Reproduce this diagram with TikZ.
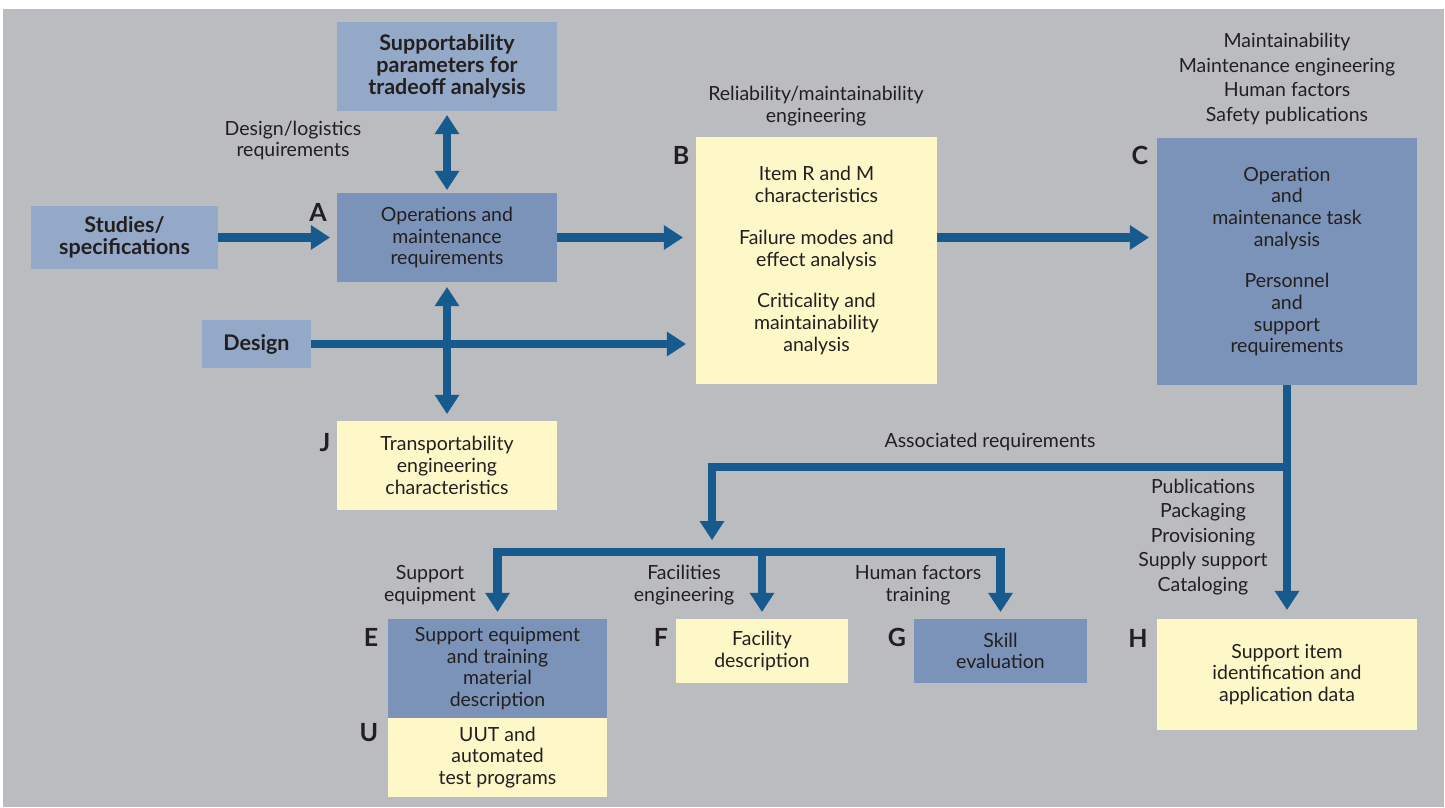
\documentclass[tikz,border=0pt]{standalone}
\usepackage{fontspec}
\setmainfont{Lato}
\usepackage{tikz}
\usetikzlibrary{positioning, arrows.meta}
\definecolor{bgGray}{HTML}{BBBCC0}
\definecolor{lightBlue}{HTML}{94A8C8}
\definecolor{midBlue}{HTML}{7B93B8}
\definecolor{paleYellow}{HTML}{FEF8C8}
\definecolor{pipeBlue}{HTML}{175A8E}
\definecolor{inkGray}{HTML}{231F20}
\tikzstyle{inputbox} = [rectangle, text centered, fill=lightBlue,
font=\fontsize{21.5}{22}\selectfont\bfseries]
\tikzstyle{taskbox} = [rectangle, text centered, fill=midBlue]
\tikzstyle{databox} = [rectangle, text centered, fill=paleYellow]
\tikzstyle{letter} = [font=\fontsize{25}{25}\selectfont\bfseries]
\tikzstyle{pipe} = [line width=8.5pt, draw=pipeBlue,
-{Triangle[width=25pt,length=19pt,line width=0pt]}]
\tikzstyle{twoway} = [line width=8.5pt, draw=pipeBlue,
{Triangle[width=25pt,length=19pt,line width=0pt]}-{Triangle[width=25pt,length=19pt,line width=0pt]}]
\begin{document}
\begin{tikzpicture}[x=1pt, y=-1pt,
    every node/.style={font=\fontsize{19.5}{21.7}\selectfont, text=inkGray},
    align=center]

\fill[white] (0,0) rectangle (1445,807);
\fill[bgGray] (3,9) rectangle (1444,807);
\useasboundingbox (0,0) rectangle (1445,807);

%-------left column-------------------
\node (sup) [inputbox, minimum width=220pt, minimum height=89pt] at (447,66.5)
{Supportability \\ parameters for \\ tradeoff analysis};

\node (ops) [taskbox, minimum width=220pt, minimum height=89pt] at (447,237.5)
{Operations and \\ maintenance \\ requirements};

\node (studies) [inputbox, minimum width=187pt, minimum height=63pt] at (124.5,237.5)
{Studies/ \\ specifications};

\node (design) [inputbox, minimum width=109pt, minimum height=48pt] at (256.5,344)
{Design};

\node (trans) [databox, minimum width=220pt, minimum height=89pt] at (447,465.5)
{Transportability \\ engineering \\ characteristics};

%-------analysis boxes-------------------
\node (rel) [databox, minimum width=241pt, minimum height=247pt] at (816.5,260.5)
{Item R and M \\ characteristics \\[20pt] Failure modes and \\ effect analysis
\\[20pt] Criticality and \\ maintainability \\ analysis};

\node (task) [taskbox, minimum width=260pt, minimum height=247pt] at (1287,261.5)
{Operation \\ and \\ maintenance task \\ analysis \\[20pt] Personnel \\ and \\
support \\ requirements};

%-------support boxes-------------------
\node (supeq) [taskbox, minimum width=219pt, minimum height=99pt] at (497.5,668.5)
{Support equipment \\ and training \\ material \\ description};

\node (uut) [databox, minimum width=219pt, minimum height=79pt] at (497.5,757.5)
{UUT and \\ automated \\ test programs};

\node (fac) [databox, minimum width=172pt, minimum height=64pt] at (762,651)
{Facility \\ description};

\node (skill) [taskbox, minimum width=173pt, minimum height=64pt] at (1000.5,651)
{Skill \\ evaluation};

\node (item) [databox, minimum width=260pt, minimum height=111pt] at (1287,674.5)
{Support item \\ identification and \\ application data};

%-------letters-------------------
\node (ltrA) [letter] at (318,212) {A};
\node (ltrB) [letter] at (681,155) {B};
\node (ltrC) [letter] at (1140,155) {C};
\node (ltrJ) [letter] at (325,443) {J};
\node (ltrE) [letter] at (371,637) {E};
\node (ltrU) [letter] at (369,733) {U};
\node (ltrF) [letter] at (661,637) {F};
\node (ltrG) [letter] at (897,637) {G};
\node (ltrH) [letter] at (1138,638) {H};

%-------labels-------------------
\node (loglbl) at (293,140.5) {Design/logistics \\ requirements};
\node (rellbl) at (816,106) {Reliability/maintainability \\ engineering};
\node (maintlbl) [font=\fontsize{19.5}{24.6}\selectfont] at (1287,79)
{Maintainability \\ Maintenance engineering \\ Human factors \\ Safety publications};
\node (assoclbl) at (990,442) {Associated requirements};
\node (publbl) [font=\fontsize{19.5}{24.5}\selectfont] at (1203,537)
{Publications \\ Packaging \\ Provisioning \\ Supply support \\ Cataloging};
\node (seqlbl) at (430,585) {Support \\ equipment};
\node (faclbl) at (684,585) {Facilities \\ engineering};
\node (humlbl) at (918,585) {Human factors \\ training};

%-------arrows-------------------
\draw [pipe, shorten >=7pt] (studies) -- (ops);
\draw [pipe, shorten >=13pt] (ops) -- (ops -| rel.west);
\draw [pipe, shorten >=10pt] (design) -- (design -| rel.west);
\draw [pipe, shorten >=8pt] (rel.east |- ops) -- (task.west |- ops);
\draw [twoway, shorten <=3pt, shorten >=4pt] (ops) -- (sup);
\draw [twoway, shorten <=5pt, shorten >=7pt] (ops) -- (trans);
\draw [pipe, shorten >=9pt] (task) -- (item);

%-------associated requirements branch-------------------
\coordinate (split) at (task |- 0,467);
\coordinate (bus) at (712,552);
\draw [pipe, shorten >=12pt] (split) -| (bus);
\draw [pipe, shorten >=7pt] (bus) -| (supeq);
\draw [pipe, shorten >=7pt] (bus) -| (fac);
\draw [pipe, shorten >=7pt] (bus) -| (skill);

\end{tikzpicture}
\end{document}
